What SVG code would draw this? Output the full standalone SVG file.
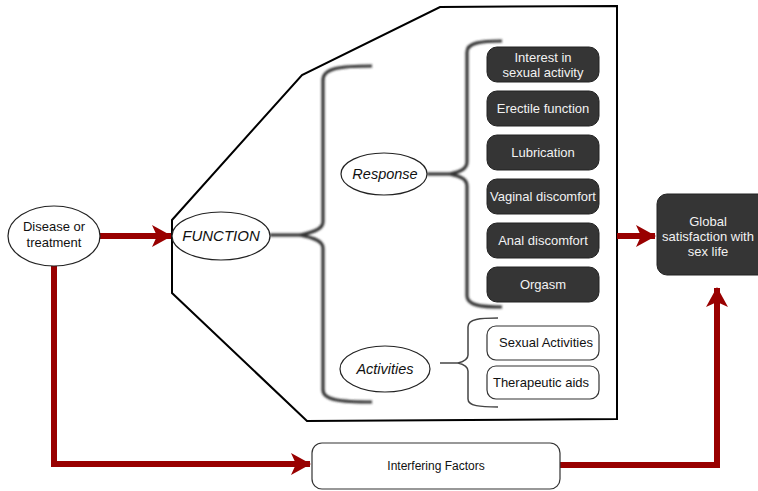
<svg xmlns="http://www.w3.org/2000/svg" width="758" height="491" viewBox="0 0 758 491">
<defs>
<style>
text{font-family:"Liberation Sans",Arial,sans-serif;}
.lbl{font-size:13px;fill:#f2f2f2;text-anchor:middle;}
.wlbl{font-size:13px;fill:#111;text-anchor:middle;}
.it{font-style:italic;font-size:14.5px;fill:#111;text-anchor:middle;}
.dark{fill:#353535;stroke:#222;stroke-width:1;}
.light{fill:#fff;stroke:#333;stroke-width:1.2;}
.ell{fill:#fff;stroke:#222;stroke-width:1.2;}
.red{fill:none;stroke:#990000;stroke-width:6;}
.brace{fill:none;stroke:#333;stroke-width:3.2;}
.thin{fill:none;stroke:#444;stroke-width:1.5;}
</style>
<marker id="ah" viewBox="0 0 20 22" refX="19" refY="11" markerWidth="20" markerHeight="22" markerUnits="userSpaceOnUse" orient="auto">
<path d="M0,0 L20,11 L0,22 L5,11 z" fill="#990000"/>
</marker>
<filter id="sh" x="-20%" y="-5%" width="140%" height="110%">
<feGaussianBlur in="SourceGraphic" stdDeviation="1.1"/>
</filter>
</defs>
<rect width="758" height="491" fill="#fff"/>
<g id="function-panel">
<polygon points="172,220 302,75 440,7 617,6 617,419 307,421 172,293" fill="#fff" stroke="#000" stroke-width="2"/>
</g>
<g id="connectors">
<path class="red" d="M100,236 L171,236" marker-end="url(#ah)"/>
<path class="red" d="M617,236 L655,236" marker-end="url(#ah)"/>
<path class="red" d="M54,266 L54,464 L310,464" marker-end="url(#ah)"/>
<path class="red" d="M560,465 L717,465 L717,288" marker-end="url(#ah)"/>
<g filter="url(#sh)">
<path class="brace" d="M270,235 L300,235"/>
<path class="brace" d="M372,66 C340,66 323,68 323,80 L323,222 C323,230 310,233 300,235 C310,237 323,240 323,248 L323,390 C323,400 340,402 372,402"/>
<path class="brace" d="M427,174 L450,174"/>
<path class="brace" d="M502,41 C480,41 467,43 467,52 L467,162 C467,170 458,172 450,174 C458,176 467,178 467,186 L467,296 C467,305 480,307 502,307"/>
</g>
<path class="thin" d="M440,363 L458,363"/>
<path class="thin" d="M498,318 C480,318 468,319 468,327 L468,355 C468,360 462,362 458,363 C462,364 468,366 468,371 L468,399 C468,406 480,407 498,407"/>
</g>
<g id="disease">
<ellipse class="ell" cx="54" cy="236" rx="46" ry="30"/>
<text class="wlbl" x="54" y="231">Disease or</text>
<text class="wlbl" x="54" y="247">treatment</text>
</g>
<g id="function">
<ellipse class="ell" cx="221" cy="236" rx="49" ry="24"/>
<text class="it" x="221" y="241" style="font-size:15px">FUNCTION</text>
</g>
<g id="response">
<ellipse class="ell" cx="384" cy="174" rx="43" ry="21"/>
<text class="it" x="385" y="179">Response</text>
</g>
<g id="activities">
<ellipse class="ell" cx="385" cy="369" rx="45" ry="23"/>
<text class="it" x="385" y="374">Activities</text>
</g>
<g id="interest">
<rect class="dark" x="487" y="47" width="112" height="35" rx="10"/>
<text class="lbl" x="543" y="62">Interest in</text>
<text class="lbl" x="543" y="77">sexual activity</text>
</g>
<g id="erectile">
<rect class="dark" x="487" y="91" width="112" height="35" rx="10"/>
<text class="lbl" x="543" y="113">Erectile function</text>
</g>
<g id="lubrication">
<rect class="dark" x="487" y="135" width="112" height="35" rx="10"/>
<text class="lbl" x="543" y="157">Lubrication</text>
</g>
<g id="vaginal">
<rect class="dark" x="487" y="179" width="112" height="35" rx="10"/>
<text class="lbl" x="543" y="201">Vaginal discomfort</text>
</g>
<g id="anal">
<rect class="dark" x="487" y="223" width="112" height="35" rx="10"/>
<text class="lbl" x="543" y="245">Anal discomfort</text>
</g>
<g id="orgasm">
<rect class="dark" x="487" y="267" width="112" height="35" rx="10"/>
<text class="lbl" x="543" y="289">Orgasm</text>
</g>
<g id="sexual-activities">
<rect class="light" x="487" y="326" width="112" height="34" rx="9"/>
<text class="wlbl" x="546" y="347">Sexual Activities</text>
</g>
<g id="therapeutic-aids">
<rect class="light" x="487" y="366" width="112" height="33" rx="9"/>
<text class="wlbl" x="541" y="387">Therapeutic aids</text>
</g>
<g id="global">
<rect class="dark" x="657" y="194" width="112" height="81" rx="10"/>
<text class="lbl" x="708" y="226">Global</text>
<text class="lbl" x="708" y="241">satisfaction with</text>
<text class="lbl" x="708" y="256">sex life</text>
</g>
<g id="interfering">
<rect class="light" x="312" y="443" width="248" height="46" rx="10"/>
<text class="wlbl" x="436" y="470" style="font-size:12px">Interfering Factors</text>
</g>
</svg>
